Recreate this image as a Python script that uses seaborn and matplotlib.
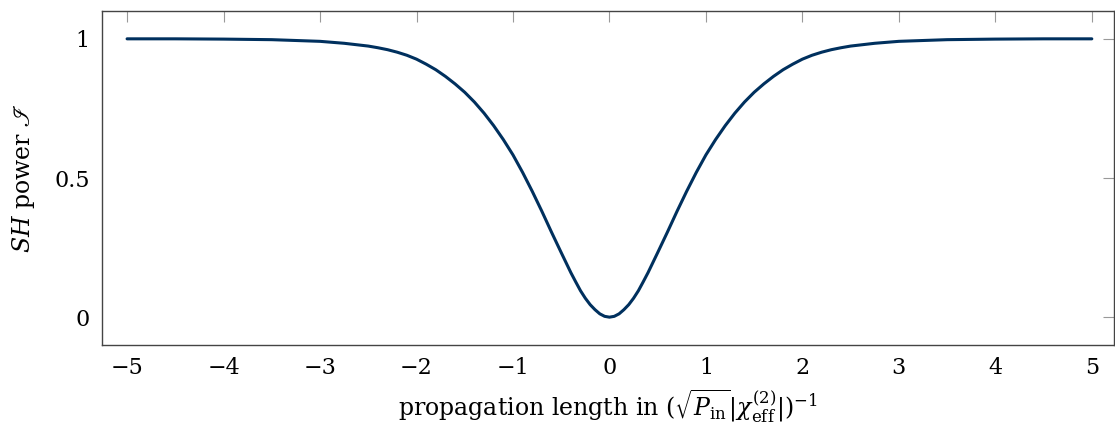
import numpy as np
import pandas as pd
import matplotlib
matplotlib.use("Agg")
import matplotlib.pyplot as plt
import seaborn as sns

# propagation length
x_pos = [0.0, 0.05, 0.1, 0.15, 0.2, 0.25, 0.3, 0.35, 0.4, 0.5, 0.6, 0.7, 0.8,
         0.9, 1.0, 1.1, 1.2, 1.3, 1.4, 1.5, 1.6, 1.7, 1.8, 1.9, 2.0, 2.1, 2.2,
         2.3, 2.4, 2.5, 2.75, 3.0, 3.5, 4.0, 4.5, 5.0]
# SH power
y_pos = [0.000, 0.003, 0.012, 0.027, 0.045, 0.068, 0.095, 0.127, 0.160, 0.232,
         0.305, 0.380, 0.452, 0.520, 0.583, 0.638, 0.688, 0.733, 0.773, 0.808,
         0.838, 0.865, 0.889, 0.909, 0.927, 0.941, 0.952, 0.961, 0.968, 0.974,
         0.984, 0.991, 0.997, 0.999, 1.000, 1.000]

xticks = [-5, -4, -3, -2, -1, 0, 1, 2, 3, 4, 5]
yticks = [0, 0.5, 1]
ytick_labels = ["0", "0.5", "1"]

x_vals = [-v for v in x_pos[::-1]] + x_pos[1:]
y_vals = y_pos[::-1] + y_pos[1:]
df = pd.DataFrame({"length": x_vals, "power": y_vals})

sns.set_theme(style="white")
plt.rcParams["font.family"] = ["DejaVu Serif"]
plt.rcParams["mathtext.fontset"] = "dejavuserif"

fig = plt.figure(figsize=(11.15, 4.32), dpi=100)
ax = fig.add_axes([102 / 1115, 1 - 345 / 432, (1114 - 102) / 1115, (345 - 11) / 432])

sns.lineplot(data=df, x="length", y="power", ax=ax, color="#00305e",
             linewidth=2.2, sort=False)
ax.lines[0].set_solid_joinstyle("round")

ax.set_xlim(-5.26, 5.23)
ax.set_ylim(-0.1, 1.1)
ax.set_xticks(xticks)
ax.set_xticklabels([("\u2212" + str(abs(t))) if t < 0 else str(t) for t in xticks])
ax.set_yticks(yticks)
ax.set_yticklabels(ytick_labels)

ax.tick_params(axis="both", which="both", direction="in", length=8, width=0.8,
               color="#999999", labelsize=16, top=True, right=True,
               labelcolor="black", pad=9)
for s in ax.spines.values():
    s.set_color("#444444")
    s.set_linewidth(1.0)
    s.set_visible(True)

ax.set_xlabel(r"propagation length in $(\sqrt{P_{\mathrm{in}}}|\chi^{(2)}_{\mathrm{eff}}|)^{-1}$",
              fontsize=17, labelpad=6, color="black")
ax.set_ylabel(r"$SH$ power $\mathscr{I}$", fontsize=17, labelpad=12, color="black")
ax.grid(False)

fig.savefig("out.png", dpi=100)
